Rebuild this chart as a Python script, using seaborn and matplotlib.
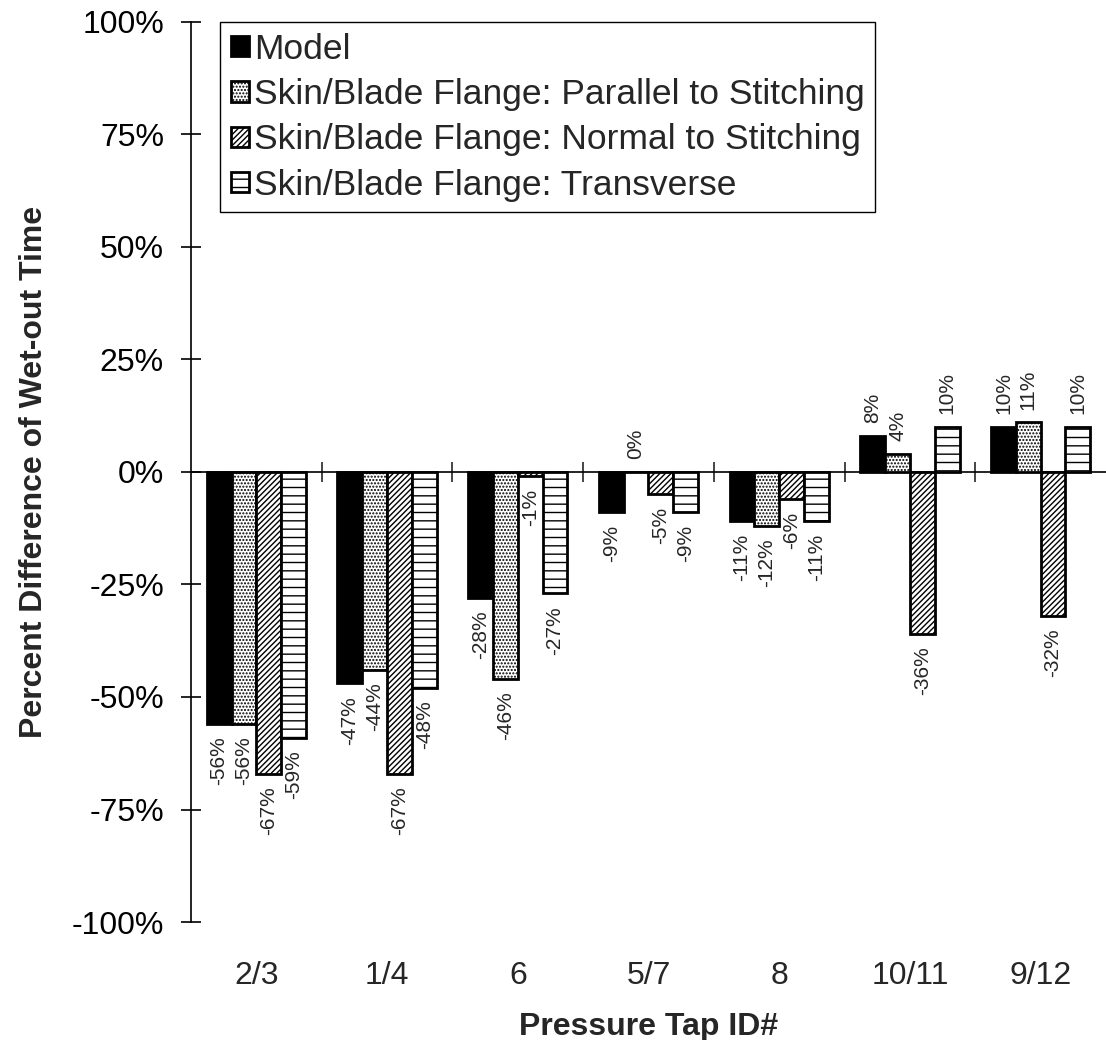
import matplotlib
matplotlib.use("Agg")
import matplotlib.pyplot as plt
import seaborn as sns
import pandas as pd
from matplotlib.ticker import FuncFormatter, MultipleLocator

# Pressure taps (x categories) and the four compared cases
taps = ["2/3", "1/4", "6", "5/7", "8", "10/11", "9/12"]
series = [
    "Model",
    "Skin/Blade Flange: Parallel to Stitching",
    "Skin/Blade Flange: Normal to Stitching",
    "Skin/Blade Flange: Transverse",
]

# Percent difference of wet-out time per tap
model = [-56, -47, -28, -9, -11, 8, 10]
parallel = [-56, -44, -46, 0, -12, 4, 11]
normal = [-67, -67, -1, -5, -6, -36, -32]
transverse = [-59, -48, -27, -9, -11, 10, 10]

sns.set_style("white")
plt.rcParams["font.family"] = ["Liberation Sans", "DejaVu Sans"]
plt.rcParams["hatch.linewidth"] = 1.0

df = pd.DataFrame({
    "tap": taps * 4,
    "series": [s for s in series for _ in taps],
    "value": model + parallel + normal + transverse,
})

fig = plt.figure(figsize=(11.06, 10.4), dpi=100)
ax = fig.add_axes([191 / 1106, 1 - 922 / 1040, 1 - 191 / 1106, 900 / 1040])

sns.barplot(
    data=df, x="tap", y="value", hue="series",
    order=taps, hue_order=series,
    palette=["black", "white", "white", "white"],
    saturation=1, width=0.76, edgecolor="black", linewidth=2,
    errorbar=None, legend=False, ax=ax,
)

hatches = [None, ".....", "//////", "--"]
for cont, h in zip(ax.containers, hatches):
    for bar in cont:
        if h:
            bar.set_hatch(h)

# value labels, rotated, just beyond the end of each bar
for cont in ax.containers:
    for bar in cont:
        v = bar.get_height()
        x = bar.get_x() + bar.get_width() / 2
        neg = v < 0
        ax.annotate(
            f"{v:.0f}%", (x, v),
            xytext=(0, -9 if neg else 9), textcoords="offset points",
            rotation=90, ha="center", va="top" if neg else "bottom",
            fontsize=15,
        )

ax.set_ylim(-100, 100)
ax.set_xlim(-0.5, len(taps) - 0.5)
ax.yaxis.set_major_locator(MultipleLocator(25))
ax.yaxis.set_major_formatter(FuncFormatter(lambda v, p: f"{v:.0f}%"))
ax.tick_params(axis="y", left=True, direction="inout", length=15, width=1.2,
               labelsize=23, pad=12, colors="black")
ax.tick_params(axis="x", bottom=False, length=0, labelsize=23, pad=28)

for s in ["top", "right", "bottom"]:
    ax.spines[s].set_visible(False)
ax.spines["left"].set_color("black")
ax.spines["left"].set_linewidth(1.2)

# zero line with separators between tap groups
zero = ax.secondary_xaxis(0.5)
zero.set_xticks([i + 0.5 for i in range(len(taps) - 1)])
zero.set_xticklabels([])
zero.tick_params(direction="inout", length=15, width=1.2,
                 labelbottom=False, labeltop=False)
for sp in zero.spines.values():
    sp.set_linewidth(1.2)
    sp.set_color("black")

ax.set_ylabel("Percent Difference of Wet-out Time", fontsize=23,
              fontweight="bold", labelpad=16)
ax.set_xlabel("Pressure Tap ID#", fontsize=23, fontweight="bold", labelpad=15)

leg = ax.legend(
    ax.containers, series, loc="upper left", bbox_to_anchor=(0.032, 1.0),
    borderaxespad=0, fontsize=25.5, frameon=True, fancybox=False,
    edgecolor="black", framealpha=1, handlelength=0.5, handleheight=0.5,
    handletextpad=0.15, labelspacing=0.35, borderpad=0.3,
)
leg.get_frame().set_linewidth(1.0)

fig.savefig("out.png", dpi=100)
